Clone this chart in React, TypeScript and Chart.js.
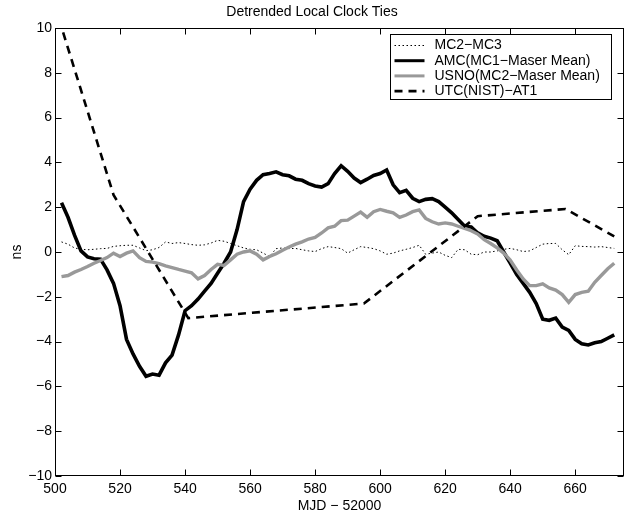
import React, { useEffect, useRef } from "react";
import { Chart, registerables } from "chart.js";

Chart.register(...registerables);

// Day axis (MJD - 52000) shared by the three continuous clock series
const mjd = [
  502, 504, 506, 508, 510, 512, 514, 516, 518, 520,
  522, 524, 526, 528, 530, 532, 534, 536, 538, 540,
  542, 544, 546, 548, 550, 552, 554, 556, 558, 560,
  562, 564, 566, 568, 570, 572, 574, 576, 578, 580,
  582, 584, 586, 588, 590, 592, 594, 596, 598, 600,
  602, 604, 606, 608, 610, 612, 614, 616, 618, 620,
  622, 624, 626, 628, 630, 632, 634, 636, 638, 640,
  642, 644, 646, 648, 650, 652, 654, 656, 658, 660,
  662, 664, 666, 668, 670, 672,
];

// MC2-MC3 (ns)
const mc2mc3 = [
  0.45, 0.35, 0.18, 0.12, 0.1, 0.12, 0.15, 0.16, 0.25, 0.28,
  0.3, 0.3, 0.18, 0.06, 0.1, 0.2, 0.45, 0.38, 0.42, 0.38,
  0.33, 0.3, 0.32, 0.4, 0.52, 0.48, 0.38, 0.28, 0.18, 0.12,
  0.1, -0.05, -0.2, 0.15, 0.18, 0.15, 0.16, 0.1, 0.05, 0.02,
  0.15, 0.24, 0.2, 0.15, -0.05, 0.1, 0.24, 0.2, 0.15, 0.05,
  -0.1, -0.05, 0.05, 0.12, 0.2, 0.3, -0.1, -0.05, 0.0, -0.15,
  -0.25, 0.12, 0.1, -0.1, -0.12, 0.0, 0.0, 0.05, 0.12, 0.16,
  0.1, 0.02, 0.05, 0.2, 0.35, 0.38, 0.38, 0.1, -0.12, 0.28,
  0.25, 0.24, 0.22, 0.24, 0.2, 0.16,
];

// AMC (MC1 - Maser Mean) (ns)
const amc = [
  2.2, 1.55, 0.75, 0.05, -0.22, -0.3, -0.32, -0.8, -1.4, -2.4,
  -3.9, -4.55, -5.1, -5.55, -5.45, -5.5, -4.95, -4.6, -3.7, -2.62,
  -2.4, -2.1, -1.75, -1.4, -0.95, -0.5, 0.0, 1.0, 2.25, 2.8,
  3.2, 3.45, 3.5, 3.58, 3.45, 3.4, 3.25, 3.2, 3.05, 2.95,
  2.9, 3.05, 3.5, 3.85, 3.6, 3.3, 3.1, 3.25, 3.42, 3.5,
  3.66, 3.0, 2.65, 2.75, 2.4, 2.25, 2.35, 2.38, 2.25, 2.0,
  1.75, 1.45, 1.15, 1.12, 0.85, 0.7, 0.62, 0.5, 0.0, -0.5,
  -1.0, -1.4, -1.8, -2.3, -3.0, -3.05, -2.95, -3.35, -3.5, -3.9,
  -4.1, -4.15, -4.05, -4.0, -3.85, -3.7,
];

// USNO (MC2 - Maser Mean) (ns)
const usno = [
  -1.1, -1.05, -0.9, -0.78, -0.65, -0.5, -0.38, -0.25, -0.05, -0.2,
  -0.05, 0.05, -0.25, -0.42, -0.45, -0.52, -0.62, -0.7, -0.78, -0.85,
  -0.93, -1.2, -1.05, -0.78, -0.55, -0.6, -0.35, -0.1, 0.0, 0.05,
  -0.1, -0.35, -0.2, -0.08, 0.08, 0.22, 0.35, 0.45, 0.58, 0.65,
  0.85, 1.08, 1.15, 1.4, 1.42, 1.6, 1.78, 1.55, 1.8, 1.9,
  1.82, 1.75, 1.55, 1.65, 1.8, 1.88, 1.5, 1.35, 1.25, 1.3,
  1.25, 1.15, 1.05, 0.95, 0.8, 0.55, 0.38, 0.18, -0.05, -0.36,
  -0.8, -1.2, -1.5, -1.5, -1.42, -1.6, -1.7, -1.9, -2.25, -1.9,
  -1.8, -1.75, -1.35, -1.05, -0.75, -0.5,
];

// UTC(NIST) - AT1, sparse samples joined by straight segments
const nistMjd = [502.5, 518, 541, 595, 630, 657, 672];
const nistAt1 = [9.8, 2.55, -2.95, -2.3, 1.6, 1.92, 0.7];

// Axis ticks
const xTicks = [500, 520, 540, 560, 580, 600, 620, 640, 660];
const yTicks = [-10, -8, -6, -4, -2, 0, 2, 4, 6, 8, 10];

const FONT = "'Liberation Sans', Arial, Helvetica, sans-serif";
const FONT_SIZE = 14;

const fmtTick = (v: number | string) => {
  const n = Number(v);
  return n < 0 ? "\u2212" + Math.abs(n) : String(n);
};

const toPoints = (xs: number[], ys: number[]) => xs.map((x, i) => ({ x, y: ys[i] }));

// Box around the axes, inward tick marks on all four sides, and the legend
const axesFrame = {
  id: "axesFrame",
  afterDraw(chart: any) {
    const { ctx, chartArea: a, scales } = chart;
    ctx.save();
    ctx.strokeStyle = "#000";
    ctx.lineWidth = 1;
    const L = Math.floor(a.left) + 0.5;
    const R = Math.floor(a.right) - 0.5;
    const T = Math.floor(a.top) + 0.5;
    const B = Math.floor(a.bottom) - 0.5;
    ctx.strokeRect(L, T, R - L, B - T);
    const tl = 6;
    ctx.beginPath();
    xTicks.forEach((v) => {
      const px = Math.round(scales.x.getPixelForValue(v)) + 0.5;
      ctx.moveTo(px, B);
      ctx.lineTo(px, B - tl);
      ctx.moveTo(px, T);
      ctx.lineTo(px, T + tl);
    });
    yTicks.forEach((v) => {
      const py = Math.round(scales.y.getPixelForValue(v)) + 0.5;
      ctx.moveTo(L, py);
      ctx.lineTo(L + tl, py);
      ctx.moveTo(R, py);
      ctx.lineTo(R - tl, py);
    });
    ctx.stroke();

    // Legend
    ctx.font = `${FONT_SIZE}px ${FONT}`;
    const items = chart.data.datasets;
    const maxW = Math.max(...items.map((d: any) => ctx.measureText(d.label).width));
    const rowH = 15.2;
    const boxW = Math.round(44 + maxW + 12);
    const boxH = 65;
    const bx = Math.round(a.right - 13 - boxW) + 0.5;
    const by = Math.round(a.top + 6) + 0.5;
    ctx.fillStyle = "#fff";
    ctx.fillRect(bx, by, boxW, boxH);
    ctx.strokeStyle = "#000";
    ctx.lineWidth = 1;
    ctx.setLineDash([]);
    ctx.strokeRect(bx, by, boxW, boxH);
    items.forEach((d: any, i: number) => {
      const cy = by + 11 + i * rowH;
      ctx.save();
      ctx.strokeStyle = d.borderColor;
      ctx.lineWidth = Math.min(d.borderWidth, 3);
      ctx.setLineDash(d.borderDash || []);
      ctx.beginPath();
      ctx.moveTo(bx + 4, cy);
      ctx.lineTo(bx + 34, cy);
      ctx.stroke();
      ctx.restore();
      ctx.fillStyle = "#000";
      ctx.textBaseline = "middle";
      ctx.textAlign = "left";
      ctx.fillText(d.label, bx + 44, cy);
    });
    ctx.restore();
  },
};

export default function App() {
  const canvasRef = useRef<HTMLCanvasElement | null>(null);

  useEffect(() => {
    if (!canvasRef.current) return;
    const chart = new Chart(canvasRef.current, {
      type: "line",
      data: {
        datasets: [
          {
            label: "MC2\u2212MC3",
            data: toPoints(mjd, mc2mc3),
            borderColor: "#000",
            borderWidth: 1,
            borderDash: [1.5, 2.5],
            order: 4,
          },
          {
            label: "AMC(MC1\u2212Maser Mean)",
            data: toPoints(mjd, amc),
            borderColor: "#000",
            borderWidth: 3.6,
            order: 3,
          },
          {
            label: "USNO(MC2\u2212Maser Mean)",
            data: toPoints(mjd, usno),
            borderColor: "#999999",
            borderWidth: 3.4,
            order: 2,
          },
          {
            label: "UTC(NIST)\u2212AT1",
            data: toPoints(nistMjd, nistAt1),
            borderColor: "#000",
            borderWidth: 2.6,
            borderDash: [8, 6],
            order: 1,
          },
        ] as any,
      },
      options: {
        animation: false,
        responsive: false,
        devicePixelRatio: 1,
        parsing: true,
        elements: {
          point: { radius: 0 },
          line: { tension: 0, fill: false, borderCapStyle: "butt" },
        },
        layout: { padding: { top: 0, right: 2, left: 0, bottom: 0 } },
        plugins: {
          legend: { display: false },
          tooltip: { enabled: false },
          title: {
            display: true,
            text: "Detrended Local Clock Ties",
            color: "#000",
            font: { family: FONT, size: FONT_SIZE, weight: "normal" },
            padding: { top: 4, bottom: 7.2 },
          },
        },
        scales: {
          x: {
            type: "linear",
            min: 500,
            max: 675,
            grid: { display: false, drawTicks: false },
            border: { display: false },
            ticks: {
              color: "#000",
              font: { family: FONT, size: FONT_SIZE },
              padding: 5,
              maxRotation: 0,
              autoSkip: false,
              callback: fmtTick,
            },
            afterBuildTicks: (s: any) => {
              s.ticks = xTicks.map((v) => ({ value: v }));
            },
            afterFit: (s: any) => {
              s.height = 39;
            },
            title: {
              display: true,
              text: "MJD \u2212 52000",
              color: "#000",
              font: { family: FONT, size: FONT_SIZE },
              padding: { top: 0, bottom: 0.6 },
            },
          },
          y: {
            type: "linear",
            min: -10,
            max: 10,
            grid: { display: false, drawTicks: false },
            border: { display: false },
            ticks: {
              color: "#000",
              font: { family: FONT, size: FONT_SIZE },
              padding: 3,
              autoSkip: false,
              callback: fmtTick,
            },
            afterBuildTicks: (s: any) => {
              s.ticks = yTicks.map((v) => ({ value: v }));
            },
            afterFit: (s: any) => {
              s.width = 55;
            },
            title: {
              display: true,
              text: "ns",
              color: "#000",
              font: { family: FONT, size: FONT_SIZE },
              padding: { top: 9, bottom: 0 },
            },
          },
        },
      } as any,
      plugins: [axesFrame],
    });
    return () => chart.destroy();
  }, []);

  return (
    <div style={{ position: "fixed", left: 0, top: 0, width: 626, height: 515, background: "#fff" }}>
      <canvas ref={canvasRef} width={626} height={515} style={{ display: "block" }} />
    </div>
  );
}
